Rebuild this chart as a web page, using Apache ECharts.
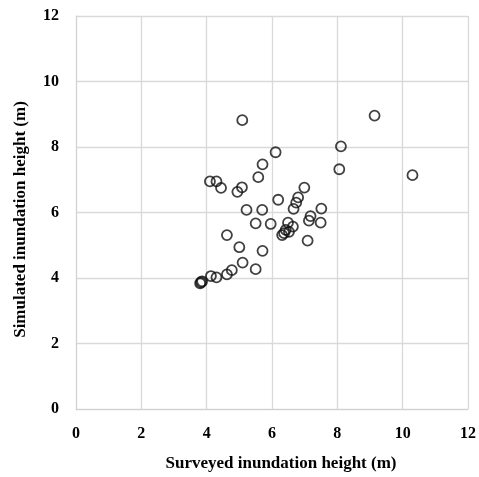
<!DOCTYPE html>
<html>
<head>
<meta charset="utf-8">
<script src="https://cdn.jsdelivr.net/npm/echarts@6/dist/echarts.min.js"></script>
<style>
  html, body { margin: 0; padding: 0; background: #fff; }
  #chart { width: 479px; height: 477px; }
</style>
</head>
<body>
<div id="chart"></div>
<script>
// surveyed (x) vs simulated (y) inundation height, metres
const surveyed = [
  5.09, 6.11, 5.71, 5.58, 4.10, 4.30, 4.44, 5.08, 4.94, 6.99,
  6.19, 6.80, 6.74, 6.66, 5.22, 5.70, 7.51, 7.18, 7.13, 7.49,
  5.96, 5.50, 6.49, 6.64, 6.42, 6.37, 6.31, 6.52, 7.09, 4.62,
  5.00, 5.71, 5.10, 5.50, 4.77, 4.62, 4.30, 4.13, 3.86, 3.80,
  3.83, 9.14, 8.11, 8.06, 10.30
];
const simulated = [
  8.82, 7.84, 7.47, 7.08, 6.95, 6.95, 6.75, 6.77, 6.63, 6.76,
  6.39, 6.46, 6.30, 6.11, 6.08, 6.08, 6.12, 5.89, 5.75, 5.69,
  5.65, 5.67, 5.69, 5.57, 5.47, 5.37, 5.31, 5.41, 5.14, 5.31,
  4.94, 4.83, 4.47, 4.27, 4.24, 4.11, 4.02, 4.06, 3.90, 3.84,
  3.87, 8.96, 8.02, 7.32, 7.14
];
const axisTicks = [0, 2, 4, 6, 8, 10, 12];

const points = surveyed.map((x, i) => [x, simulated[i]]);

const font = '"Liberation Serif", "Times New Roman", serif';

const axisCommon = {
  min: axisTicks[0],
  max: axisTicks[axisTicks.length - 1],
  interval: axisTicks[1] - axisTicks[0],
  axisLine: { show: true, lineStyle: { color: '#d0d0d0', width: 1 } },
  axisTick: { show: false },
  splitLine: { show: true, lineStyle: { color: '#d9d9d9', width: 1.3 } },
  nameLocation: 'middle',
  nameTextStyle: { fontFamily: font, fontWeight: 'bold', fontSize: 17, color: '#000' }
};

const labelStyle = { fontFamily: font, fontWeight: 'bold', fontSize: 16, color: '#000', margin: 17 };

const chart = echarts.init(document.getElementById('chart'), null, { renderer: 'canvas' });

chart.setOption({
  animation: false,
  backgroundColor: '#fff',
  grid: { left: 76, right: 8, top: 16, bottom: 68, containLabel: false },
  xAxis: Object.assign({}, axisCommon, {
    type: 'value',
    name: 'Surveyed inundation height (m)',
    nameGap: 46,
    nameTextStyle: Object.assign({}, axisCommon.nameTextStyle, { padding: [0, 0, 0, 18] }),
    axisLabel: labelStyle
  }),
  yAxis: Object.assign({}, axisCommon, {
    type: 'value',
    name: 'Simulated inundation height (m)',
    nameGap: 47,
    nameTextStyle: Object.assign({}, axisCommon.nameTextStyle, { padding: [0, 14, 0, 0] }),
    axisLabel: labelStyle
  }),
  series: [{
    type: 'scatter',
    data: points,
    symbol: 'circle',
    symbolSize: 10,
    itemStyle: { color: 'rgba(0,0,0,0)', borderColor: '#111', borderWidth: 1.8 }
  }]
});
</script>
</body>
</html>
